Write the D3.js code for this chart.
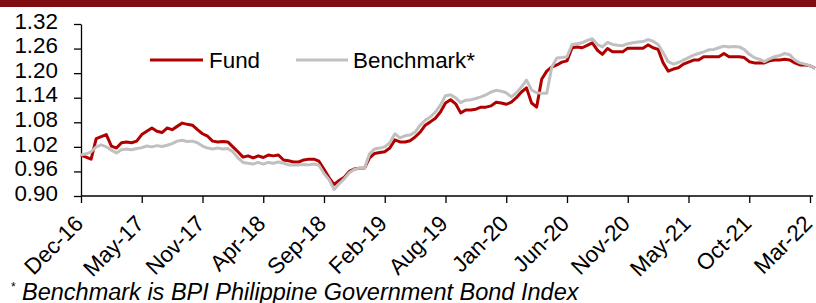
<!DOCTYPE html>
<html>
<head>
<meta charset="utf-8">
<script src="https://cdn.jsdelivr.net/npm/d3@7"></script>
<style>
  body { margin: 0; background: #fff; }
  svg { display: block; font-family: "Liberation Sans", Arial, sans-serif; }
</style>
</head>
<body>
<svg id="chart" width="816" height="303"></svg>
<script>
const tickLabels = ["Dec-16","May-17","Nov-17","Apr-18","Sep-18","Feb-19","Aug-19","Jan-20","Jun-20","Nov-20","May-21","Oct-21","Mar-22"];
const pointsPerTick = 12;
const yTicks = [0.90, 0.96, 1.02, 1.08, 1.14, 1.20, 1.26, 1.32];
const seriesNames = ["Fund", "Benchmark*"];

const fund = [
1.000,0.995,0.990,1.040,1.045,1.050,1.022,1.017,1.030,1.032,1.030,1.034,
1.050,1.058,1.066,1.058,1.055,1.066,1.062,1.070,1.078,1.075,1.073,1.062,
1.052,1.046,1.034,1.032,1.033,1.032,1.020,1.008,0.995,0.998,0.993,0.998,
0.994,1.000,0.998,1.000,0.988,0.986,0.983,0.983,0.988,0.990,0.990,0.985,
0.965,0.945,0.928,0.938,0.946,0.960,0.966,0.968,0.968,0.993,1.004,1.006,
1.008,1.017,1.037,1.032,1.032,1.035,1.044,1.056,1.073,1.081,1.090,1.105,
1.127,1.135,1.125,1.103,1.110,1.110,1.112,1.117,1.117,1.120,1.129,1.127,
1.124,1.129,1.140,1.154,1.164,1.127,1.117,1.185,1.205,1.215,1.220,1.227,
1.230,1.262,1.264,1.262,1.268,1.274,1.256,1.246,1.260,1.252,1.252,1.252,
1.261,1.261,1.261,1.261,1.269,1.262,1.258,1.225,1.205,1.210,1.213,1.222,
1.227,1.232,1.232,1.240,1.240,1.240,1.240,1.248,1.240,1.240,1.240,1.238,
1.228,1.225,1.225,1.225,1.230,1.232,1.232,1.234,1.232,1.225,1.220,1.220,
1.218,1.212];

const benchmark = [
1.000,1.003,1.008,1.020,1.025,1.020,1.012,1.005,1.013,1.015,1.013,1.016,
1.018,1.022,1.020,1.023,1.021,1.024,1.028,1.034,1.036,1.033,1.034,1.030,
1.022,1.017,1.015,1.017,1.015,1.016,1.008,0.993,0.982,0.980,0.978,0.982,
0.978,0.982,0.980,0.983,0.980,0.976,0.976,0.976,0.977,0.976,0.978,0.975,
0.955,0.940,0.916,0.930,0.942,0.957,0.965,0.968,0.968,1.003,1.015,1.017,
1.020,1.030,1.052,1.042,1.047,1.049,1.056,1.073,1.085,1.093,1.105,1.122,
1.145,1.147,1.140,1.128,1.134,1.135,1.138,1.142,1.147,1.154,1.158,1.156,
1.152,1.142,1.152,1.166,1.183,1.159,1.152,1.151,1.151,1.215,1.237,1.238,
1.240,1.270,1.272,1.274,1.280,1.284,1.270,1.264,1.275,1.270,1.268,1.267,
1.272,1.274,1.276,1.277,1.282,1.278,1.270,1.250,1.228,1.222,1.226,1.232,
1.238,1.244,1.248,1.252,1.257,1.258,1.262,1.266,1.264,1.265,1.264,1.258,
1.246,1.238,1.234,1.228,1.235,1.240,1.243,1.248,1.245,1.232,1.225,1.222,
1.218,1.212];

const colors = ["#b00000", "#c0c0c0"];

const svg = d3.select("#chart");
const W = 816, H = 303;
const x0 = 81, y0 = 196, yTop = 24;
const FS = 22.4;
const lastTickIdx = (tickLabels.length - 1) * pointsPerTick;

// top band
svg.append("rect").attr("x", 0).attr("y", 0).attr("width", W).attr("height", 7).attr("fill", "#800e10");

const x = d3.scaleLinear().domain([0, lastTickIdx]).range([x0, 810]);
const y = d3.scaleLinear().domain([0.90, 1.32]).range([y0, yTop]);

// Y axis
const yAxis = d3.axisLeft(y).tickValues(yTicks).tickFormat(d3.format(".2f")).tickSize(7).tickSizeOuter(0);
const gy = svg.append("g").attr("transform", `translate(${x0},0)`).call(yAxis);
gy.select(".domain").attr("stroke", "#000").attr("stroke-width", 1.3);
gy.selectAll(".tick line").attr("stroke", "#000").attr("stroke-width", 1.3);
gy.selectAll(".tick text").attr("font-size", FS).attr("fill", "#000").attr("x", -23).attr("y", -3)
  .attr("font-family", "'Liberation Sans', Arial, sans-serif");

// X axis
const xEnd = x(fund.length - 1) - 2;
const xAxis = d3.axisBottom(x).tickValues(tickLabels.map((d, i) => i * pointsPerTick))
  .tickFormat((d, i) => tickLabels[i]).tickSize(7).tickSizeOuter(0);
const gx = svg.append("g").attr("transform", `translate(0,${y0})`).call(xAxis);
gx.select(".domain").attr("d", `M${x0},0H${xEnd}`).attr("stroke", "#000").attr("stroke-width", 1.3);
gx.selectAll(".tick line").attr("stroke", "#000").attr("stroke-width", 1.3);
gx.selectAll(".tick text")
  .attr("font-size", FS).attr("fill", "#000")
  .attr("font-family", "'Liberation Sans', Arial, sans-serif")
  .attr("text-anchor", "end")
  .attr("y", 0).attr("dy", 0)
  .attr("transform", "translate(3,29) rotate(-45)");

// lines
const line = d3.line().x((d, i) => x(i)).y(d => y(d));
[fund, benchmark].forEach((s, k) => {
  svg.append("path").datum(s).attr("d", line)
    .attr("fill", "none").attr("stroke", colors[k]).attr("stroke-width", 3)
    .attr("stroke-linejoin", "round");
});

// legend
const legend = [{x1: 150, x2: 203, tx: 209}, {x1: 296, x2: 348, tx: 353}];
legend.forEach((l, k) => {
  svg.append("line").attr("x1", l.x1).attr("x2", l.x2).attr("y1", 60).attr("y2", 60)
    .attr("stroke", colors[k]).attr("stroke-width", 3);
  svg.append("text").attr("x", l.tx).attr("y", 60).attr("dy", "0.36em")
    .attr("font-size", FS).attr("fill", "#000").text(seriesNames[k]);
});

// footnote
svg.append("text").attr("x", 11).attr("y", 291).attr("font-size", 12).attr("fill", "#000").text("*");
svg.append("text").attr("x", 22).attr("y", 300).attr("font-size", 23.5).attr("font-style", "italic")
  .attr("fill", "#000").text("Benchmark is BPI Philippine Government Bond Index");
</script>
</body>
</html>
